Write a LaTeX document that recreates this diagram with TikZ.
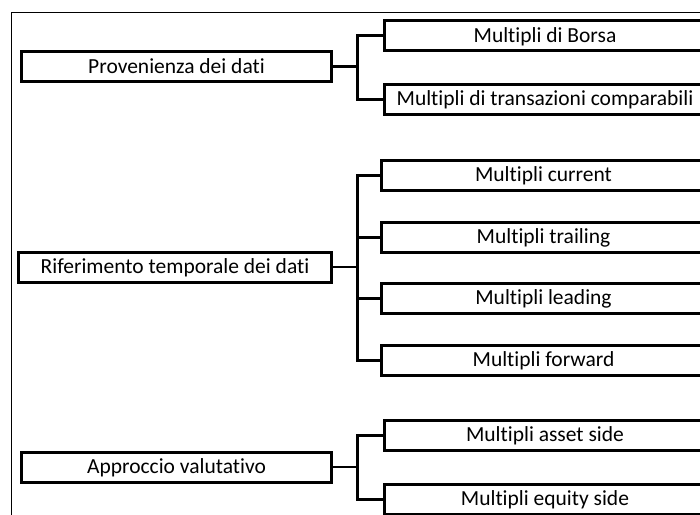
\documentclass[tikz,border=0pt]{standalone}
\usepackage{fontspec}
\setmainfont{Carlito}[Ligatures={NoCommon,NoRequired,NoContextual}]
\begin{document}
\begin{tikzpicture}[x=1pt,y=1pt,
  box/.style={draw=black, line width=3pt, fill=white, inner sep=0pt,
    minimum height=30pt, text height=15.8pt, text depth=2pt,
    font=\fontsize{21.5}{24}\selectfont},
  leftbox/.style={box, minimum width=310pt},
  rightbox/.style={box, minimum width=321pt},
  link/.style={draw=black, line width=3pt},
  stem/.style={draw=black, line width=2.6pt}]
\useasboundingbox (0,0) rectangle (700,-514);
\clip (0,0) rectangle (700,-514);
\fill[white] (0,0) rectangle (700,-514);
% frame
\draw[line width=1pt] (11,-540) -- (11,-12.7) -- (720,-12.7);

% group 1
\node[leftbox] (prov) at (176.5,-66.7) {Provenienza dei dati};
\node[rightbox] (borsa) at (545,-35.5) {Multipli di Borsa};
\node[rightbox] (trans) at (545,-99) {Multipli di transazioni comparabili};
\coordinate (j1) at (357.5,-66.7);
\draw[stem] (prov.east) -- (j1);
\draw[link] (borsa.west) -| (j1) |- (trans.west);

% group 2
\node[leftbox, minimum width=313pt] (rif) at (175,-267) {Riferimento temporale dei dati};
\node[rightbox, minimum width=324pt] (current) at (543.5,-175) {Multipli current};
\node[rightbox, minimum width=324pt] (trailing) at (543.5,-237) {Multipli trailing};
\node[rightbox, minimum width=324pt] (leading) at (543.5,-298) {Multipli leading};
\node[rightbox, minimum width=324pt] (forward) at (543.5,-360) {Multipli forward};
\coordinate (j2) at (357.5,-267);
\draw[stem] (rif.east) -- (j2);
\draw[link] (current.west) -| (j2) |- (forward.west);
\draw[link] (trailing.west) -- (trailing.west -| j2);
\draw[link] (leading.west) -- (leading.west -| j2);

% group 3
\node[leftbox] (appr) at (176.5,-467) {Approccio valutativo};
\node[rightbox] (asset) at (545,-435) {Multipli asset side};
\node[rightbox] (equity) at (545,-499) {Multipli equity side};
\coordinate (j3) at (357.5,-467);
\draw[stem] (appr.east) -- (j3);
\draw[link] (asset.west) -| (j3) |- (equity.west);
\end{tikzpicture}
\end{document}
